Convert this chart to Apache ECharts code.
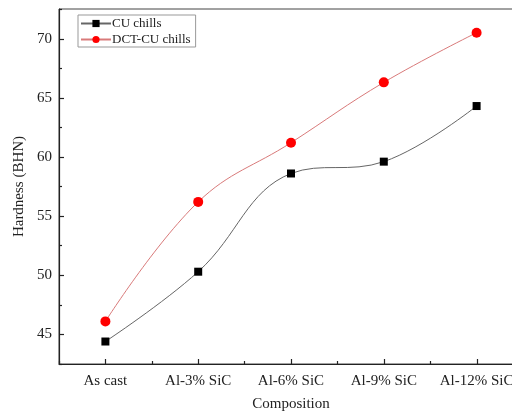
<!DOCTYPE html>
<html>
<head>
<meta charset="utf-8">
<script src="https://cdn.jsdelivr.net/npm/echarts@6/dist/echarts.min.js"></script>
<style>
	html, body { margin: 0; padding: 0; background: #fff; overflow: hidden; }
	/* plot runs past the right edge of the window, as in the original figure */
	#chart { width: 523px; height: 414px; }
</style>
</head>
<body>
<div id="chart"></div>
<script>
	// categories on the x axis
	var compositions = ['As cast', 'Al-3% SiC', 'Al-6% SiC', 'Al-9% SiC', 'Al-12% SiC'];
	// hardness values
	var cuChills = [44.4, 50.3, 58.6, 59.6, 64.3];
	var dctCuChills = [46.1, 56.2, 61.2, 66.3, 70.5];
	// tick values on the y axis
	var yMajorTicks = [45, 50, 55, 60, 65, 70];
	var yMinorTicks = [42.5, 47.5, 52.5, 57.5, 62.5, 67.5, 72.5];

	var font = 'Liberation Serif, Times New Roman, serif';
	var gridLeft = 59, gridBottom = 50;
	var chart = echarts.init(document.getElementById('chart'));

	chart.setOption({
		animation: false,
		backgroundColor: '#fff',
		grid: {
			left: gridLeft,
			top: 9,
			bottom: gridBottom,
			right: 0,
			outerBoundsMode: 'none',
			show: true,
			borderColor: '#444',
			borderWidth: 1
		},
		legend: {
			orient: 'vertical',
			left: 78,
			top: 15,
			padding: [2, 5, 1, 2],
			itemGap: 3,
			itemWidth: 30,
			itemHeight: 9,
			borderColor: '#999',
			borderWidth: 1,
			textStyle: { fontFamily: font, fontSize: 13, color: '#222', padding: [0, 0, 0, -4] },
			data: ['CU chills', 'DCT-CU chills']
		},
		xAxis: [{
			type: 'category',
			data: compositions,
			name: 'Composition',
			nameLocation: 'middle',
			nameGap: 33,
			nameTextStyle: { fontFamily: font, fontSize: 15, color: '#222' },
			axisLine: { lineStyle: { color: '#222', width: 1.2 } },
			axisTick: { show: false },
			axisLabel: { interval: 0, fontFamily: font, fontSize: 15, color: '#222', margin: 10 },
			splitLine: { show: false }
		}, {
			// minor ticks between the categories
			type: 'category',
			data: compositions,
			position: 'bottom',
			axisLine: { show: false },
			axisTick: { show: true, inside: true, length: 3, lineStyle: { color: '#222', width: 1.2 } },
			axisLabel: { show: false },
			splitLine: { show: false }
		}],
		yAxis: [{
			type: 'value',
			min: 42.5,
			max: 72.5,
			name: 'Hardness (BHN)',
			nameLocation: 'middle',
			nameGap: 27,
			nameTextStyle: { fontFamily: font, fontSize: 15, color: '#222' },
			axisLine: { show: true, lineStyle: { color: '#222', width: 1.2 } },
			axisTick: { show: false },
			axisLabel: { fontFamily: font, fontSize: 15, color: '#222', margin: 7, customValues: yMajorTicks },
			splitLine: { show: false }
		}, {
			// minor ticks on the y axis
			type: 'value',
			min: 42.5,
			max: 72.5,
			position: 'left',
			axisLine: { show: false },
			axisTick: { show: true, inside: true, length: 3, customValues: yMinorTicks, lineStyle: { color: '#222', width: 1.2 } },
			axisLabel: { show: false },
			splitLine: { show: false }
		}],
		series: [{
			name: 'CU chills',
			type: 'line',
			smooth: 0.4,
			data: cuChills,
			symbol: 'rect',
			symbolSize: 8,
			itemStyle: { color: '#000' },
			lineStyle: { color: '#666', width: 1 }
		}, {
			name: 'DCT-CU chills',
			type: 'line',
			smooth: 0.4,
			data: dctCuChills,
			symbol: 'circle',
			symbolSize: 10,
			itemStyle: { color: '#f00' },
			lineStyle: { color: '#d97a7a', width: 1 }
		}]
	});

	// major ticks, placed through the axes' own scales
	var axisY = 414 - gridBottom;
	var ticks = [];
	compositions.forEach(function (c, i) {
		var x = Math.round(chart.convertToPixel({ xAxisIndex: 0 }, i)) + 0.5;
		ticks.push({ type: 'line', shape: { x1: x, y1: axisY, x2: x, y2: axisY - 5 },
			style: { stroke: '#222', lineWidth: 1.2 }, z: 10 });
	});
	yMajorTicks.forEach(function (v) {
		var y = Math.round(chart.convertToPixel({ yAxisIndex: 0 }, v)) + 0.5;
		ticks.push({ type: 'line', shape: { x1: gridLeft, y1: y, x2: gridLeft + 5, y2: y },
			style: { stroke: '#222', lineWidth: 1.2 }, z: 10 });
	});
	chart.setOption({ graphic: ticks });
</script>
</body>
</html>
